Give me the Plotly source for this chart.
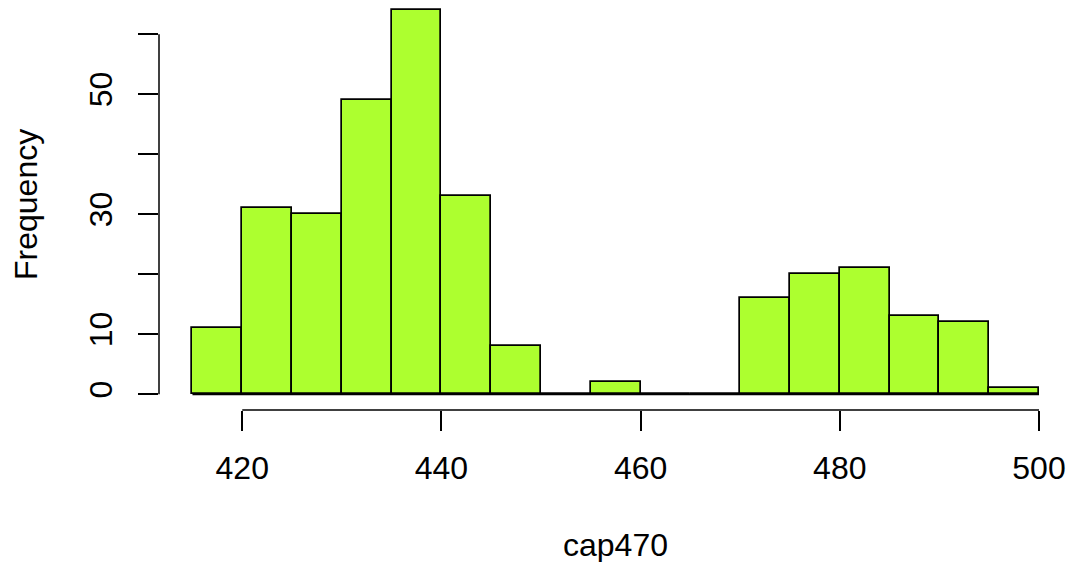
import plotly.graph_objects as go

# Histogram of cap470 (bin width 5)
bin_left = [415, 420, 425, 430, 435, 440, 445, 450, 455, 460, 465, 470, 475, 480, 485, 490, 495]
bin_width = 5
counts = [11, 31, 30, 49, 64, 33, 8, 0, 2, 0, 0, 16, 20, 21, 13, 12, 1]

x_ticks = [420, 440, 460, 480, 500]
y_ticks = [0, 10, 20, 30, 40, 50, 60]
y_tick_text = ["0", "10", "", "30", "", "50", ""]

x_title = "cap470"
y_title = "Frequency"

W, H = 1069, 562
L, R, T, B = 159, 9, 0, 152
FONT = "Liberation Sans, Arial, Helvetica, sans-serif"
FS = 32

fig = go.Figure()
fig.add_trace(go.Bar(
    x=bin_left, y=counts, width=[bin_width] * len(bin_left), offset=0,
    marker=dict(color="#ADFF2F", line=dict(color="black", width=1.7)),
    hoverinfo="x+y", showlegend=False,
))
# baseline along zero-count bins
fig.add_trace(go.Scatter(
    x=[bin_left[0], bin_left[-1] + bin_width], y=[0, 0], mode="lines",
    line=dict(color="black", width=1.7), showlegend=False, hoverinfo="skip",
))

# axis lines spanning first to last tick (R style)
fig.add_shape(type="line", xref="x", yref="paper", x0=x_ticks[0], x1=x_ticks[-1], y0=0, y1=0,
              line=dict(color="black", width=1.5))
fig.add_shape(type="line", xref="paper", yref="y", x0=0, x1=0, y0=y_ticks[0], y1=y_ticks[-1],
              line=dict(color="black", width=1.5))

fig.update_layout(
    width=W, height=H, autosize=False,
    margin=dict(l=L, r=R, t=T, b=B, pad=0),
    paper_bgcolor="white", plot_bgcolor="white",
    font=dict(family=FONT, size=FS, color="black"),
    bargap=0,
    xaxis=dict(range=[411.64, 502.11], tickvals=x_ticks, ticktext=[str(v) for v in x_ticks],
               ticks="outside", ticklen=20, tickwidth=1.5, tickcolor="black",
               showgrid=False, zeroline=False, showline=False,
               ticklabelstandoff=10, tickfont=dict(size=FS, family=FONT)),
    yaxis=dict(range=[-2.62, 65.72], tickvals=y_ticks, ticktext=y_tick_text,
               ticks="outside", ticklen=20, tickwidth=1.5, tickcolor="black",
               showgrid=False, zeroline=False, showline=False, tickangle=-90,
               ticklabelstandoff=13, tickfont=dict(size=FS, family=FONT)),
    annotations=[
        dict(text=x_title, xref="paper", yref="paper",
             x=(615.5 - L) / (W - L - R), y=-(545 - (H - B)) / (H - T - B),
             xanchor="center", yanchor="middle", showarrow=False,
             font=dict(size=FS, family=FONT)),
        dict(text=y_title, xref="paper", yref="paper",
             x=-(L - 26) / (W - L - R), y=(H - B - 205) / (H - T - B),
             xanchor="center", yanchor="middle", textangle=-90, showarrow=False,
             font=dict(size=FS, family=FONT)),
    ],
)

fig.write_html(
    "out.html",
    config={"displayModeBar": False},
    post_script="document.body.style.margin='0px';"
                "document.body.style.overflow='hidden';"
                "document.documentElement.style.overflow='hidden';",
)
